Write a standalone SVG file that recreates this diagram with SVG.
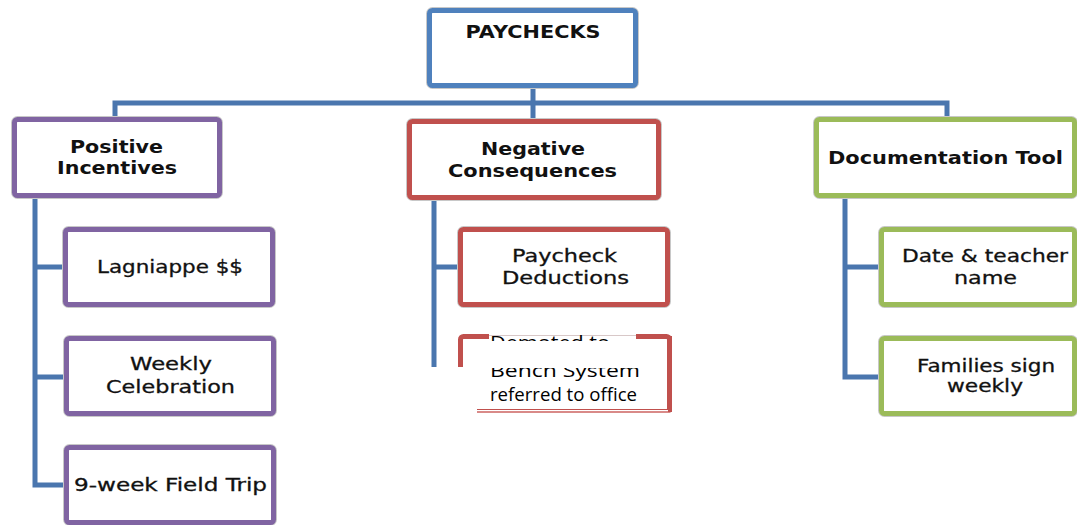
<svg xmlns="http://www.w3.org/2000/svg" width="1077" height="525" viewBox="0 0 1077 525">
<defs>
<style>
.box{fill:#fff;stroke-width:5;}
.sh{fill:none;stroke:#c8c8c8;stroke-width:7;}
.blue{stroke:#4F81BD;}
.purple{stroke:#8064A2;}
.red{stroke:#C0504D;}
.green{stroke:#9BBB59;}
.conn{fill:none;stroke:#4A76AE;stroke-width:5;stroke-linejoin:miter;stroke-linecap:butt;}
.t1{font-family:"DejaVu Sans",sans-serif;font-weight:bold;font-size:18px;fill:#111;text-anchor:middle;}
.t2{font-family:"DejaVu Sans",sans-serif;font-size:17px;fill:#111;stroke:#111;stroke-width:0.3;text-anchor:middle;}
.t3{font-family:"Open Sans","Noto Sans",sans-serif;font-size:18px;fill:#000;}
</style>
<clipPath id="c1"><rect x="480" y="330" width="160" height="11"/></clipPath>
<clipPath id="c2"><rect x="480" y="368" width="170" height="14"/></clipPath>
</defs>
<rect width="1077" height="525" fill="#fff"/>
<g id="connectors">
<path class="conn" d="M533,88 V103 M115,119 V103 H947 V119 M533,103 V121"/>
<path class="conn" d="M35,198 V485 H66 M35,267 H66 M35,377 H66"/>
<path class="conn" d="M434,199 V367 M434,267 H460"/>
<path class="conn" d="M845,198 V377 H880 M845,267 H880"/>
</g>
<g id="paychecks">
<rect class="sh" x="429.5" y="10.5" width="206" height="75" rx="3"/>
<rect class="box blue" x="429.5" y="10.5" width="206" height="75" rx="3"/>
<text class="t1" x="533" y="38" textLength="135" lengthAdjust="spacingAndGlyphs">PAYCHECKS</text>
</g>
<g id="positive">
<rect class="sh" x="14.5" y="119.5" width="205" height="76" rx="3"/>
<rect class="box purple" x="14.5" y="119.5" width="205" height="76" rx="3"/>
<text class="t1" x="116.5" y="153" textLength="93" lengthAdjust="spacingAndGlyphs">Positive</text>
<text class="t1" x="117" y="174" textLength="120" lengthAdjust="spacingAndGlyphs">Incentives</text>
</g>
<g id="negative">
<rect class="sh" x="409.5" y="121.5" width="249" height="76" rx="3"/>
<rect class="box red" x="409.5" y="121.5" width="249" height="76" rx="3"/>
<text class="t1" x="533" y="155" textLength="104" lengthAdjust="spacingAndGlyphs">Negative</text>
<text class="t1" x="532.5" y="177" textLength="169" lengthAdjust="spacingAndGlyphs">Consequences</text>
</g>
<g id="documentation">
<rect class="sh" x="816.5" y="119.5" width="258" height="76" rx="3"/>
<rect class="box green" x="816.5" y="119.5" width="258" height="76" rx="3"/>
<text class="t1" x="945.5" y="164" textLength="235" lengthAdjust="spacingAndGlyphs">Documentation Tool</text>
</g>
<g id="lagniappe">
<rect class="sh" x="65.5" y="229.5" width="207" height="75" rx="3"/>
<rect class="box purple" x="65.5" y="229.5" width="207" height="75" rx="3"/>
<text class="t2" x="170" y="273" textLength="146" lengthAdjust="spacingAndGlyphs">Lagniappe $$</text>
</g>
<g id="weekly">
<rect class="sh" x="66.5" y="338.5" width="207" height="75" rx="3"/>
<rect class="box purple" x="66.5" y="338.5" width="207" height="75" rx="3"/>
<text class="t2" x="171" y="370" textLength="82" lengthAdjust="spacingAndGlyphs">Weekly</text>
<text class="t2" x="170.5" y="393" textLength="129" lengthAdjust="spacingAndGlyphs">Celebration</text>
</g>
<g id="fieldtrip">
<rect class="sh" x="66.5" y="447.5" width="207" height="75" rx="3"/>
<rect class="box purple" x="66.5" y="447.5" width="207" height="75" rx="3"/>
<text class="t2" x="170.5" y="491" textLength="193" lengthAdjust="spacingAndGlyphs">9-week Field Trip</text>
</g>
<g id="deductions">
<rect class="sh" x="460.5" y="229.5" width="207" height="75" rx="3"/>
<rect class="box red" x="460.5" y="229.5" width="207" height="75" rx="3"/>
<text class="t2" x="564.5" y="262" textLength="105" lengthAdjust="spacingAndGlyphs">Paycheck</text>
<text class="t2" x="565.5" y="284" textLength="127" lengthAdjust="spacingAndGlyphs">Deductions</text>
</g>
<g id="bench">
<rect class="box red" x="460.5" y="336.5" width="209" height="75" rx="3"/>
<rect x="489" y="331" width="147" height="9" fill="#fff"/>
<line x1="489" y1="335.5" x2="636" y2="335.5" stroke="#d8c8c8" stroke-width="1"/>
<rect x="424" y="367" width="53" height="55" fill="#fff"/>
<rect x="477" y="410" width="193" height="4" fill="#fff"/>
<line x1="477" y1="412" x2="670" y2="412" stroke="#D98A88" stroke-width="2"/>
<rect x="668" y="336" width="4" height="76" fill="#C0504D"/>
<text class="t3" x="490" y="349" clip-path="url(#c1)" textLength="120" lengthAdjust="spacingAndGlyphs">Demoted to</text>
<text class="t3" x="490" y="377" font-size="16" clip-path="url(#c2)" textLength="150" lengthAdjust="spacingAndGlyphs">Bench System</text>
<text class="t3" x="490" y="401" textLength="147" lengthAdjust="spacingAndGlyphs">referred to office</text>
</g>
<g id="date">
<rect class="sh" x="881.5" y="229.5" width="193" height="75" rx="3"/>
<rect class="box green" x="881.5" y="229.5" width="193" height="75" rx="3"/>
<text class="t2" x="985" y="262" textLength="166" lengthAdjust="spacingAndGlyphs">Date &amp; teacher</text>
<text class="t2" x="985.5" y="284" textLength="63" lengthAdjust="spacingAndGlyphs">name</text>
</g>
<g id="families">
<rect class="sh" x="881.5" y="338.5" width="193" height="75" rx="3"/>
<rect class="box green" x="881.5" y="338.5" width="193" height="75" rx="3"/>
<text class="t2" x="986" y="372" textLength="138" lengthAdjust="spacingAndGlyphs">Families sign</text>
<text class="t2" x="985" y="392" textLength="76" lengthAdjust="spacingAndGlyphs">weekly</text>
</g>
</svg>
